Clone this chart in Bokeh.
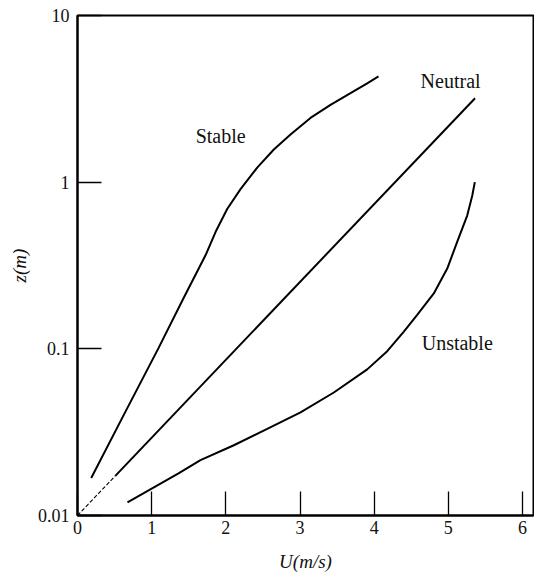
from bokeh.plotting import figure
from bokeh.models import Range1d, FixedTicker, CustomJSTickFormatter, ColumnDataSource
from bokeh.core.properties import value
from bokeh.embed import file_html
from bokeh.resources import INLINE

# ---- data ----
stable_u = [0.185, 0.638, 1.092, 1.429, 1.726, 1.861, 2.018, 2.198, 2.423, 2.647,
            2.872, 3.141, 3.411, 3.681, 3.906, 4.058]
stable_z = [0.0168, 0.0413, 0.101, 0.201, 0.364, 0.502, 0.690, 0.908, 1.223, 1.57,
            1.93, 2.43, 2.91, 3.42, 3.92, 4.31]

neutral_u = [0.0, 0.51, 5.36]
neutral_z = [0.01, 0.0173, 3.19]

unstable_u = [0.674, 1.362, 1.658, 2.108, 2.558, 3.007, 3.456, 3.906, 4.176, 4.400,
              4.580, 4.804, 4.985, 5.119, 5.254, 5.322, 5.357]
unstable_z = [0.0120, 0.0179, 0.0215, 0.0264, 0.0331, 0.0416, 0.0547, 0.0753, 0.0968, 0.127,
              0.160, 0.215, 0.303, 0.438, 0.630, 0.829, 1.0]

label_text = ["Stable", "Neutral", "Unstable"]
label_u = [1.93, 5.03, 5.12]
label_z = [1.88, 4.05, 0.109]

x_ticks = [0, 1, 2, 3, 4, 5, 6]
y_ticks = [0.01, 0.1, 1, 10]
y_tick_labels = ["0.01", "0.1", "1", "10"]

FONT = "Liberation Serif"
TXT = "#111111"

p = figure(width=534, height=574, output_backend="svg", toolbar_location=None,
           x_range=Range1d(0, 6.148), y_range=Range1d(0.01, 10), y_axis_type="log",
           min_border_left=77, min_border_right=1, min_border_top=15, min_border_bottom=55,
           x_axis_label="U(m/s)", y_axis_label="z(m)")
p.grid.visible = False
p.outline_line_color = "black"
p.outline_line_width = 2
p.background_fill_color = "white"
p.border_fill_color = "white"

for ax in (p.xaxis[0], p.yaxis[0]):
    ax.major_tick_in = 24
    ax.major_tick_out = 0
    ax.minor_tick_in = 0
    ax.minor_tick_out = 0
    ax.axis_line_width = 2
    ax.major_tick_line_width = 1.3
    ax.major_label_text_font = FONT
    ax.major_label_text_font_size = "18px"
    ax.major_label_text_color = TXT
    ax.axis_label_text_font = FONT
    ax.axis_label_text_font_size = "19px"
    ax.axis_label_text_font_style = "italic"
    ax.axis_label_text_color = TXT

p.xaxis.ticker = FixedTicker(ticks=x_ticks)
p.xaxis.major_label_standoff = 5
p.xaxis.axis_label_standoff = 14

p.yaxis.ticker = FixedTicker(ticks=y_ticks)
p.yaxis.formatter = CustomJSTickFormatter(
    args=dict(tv=y_ticks, tl=y_tick_labels),
    code="""
    for (let i = 0; i < tv.length; i++) {
        if (Math.abs(tv[i] - tick) <= 1e-6 * tv[i]) return tl[i];
    }
    return '';
    """)
p.yaxis.major_label_standoff = 8
p.yaxis.axis_label_standoff = 5

# curves
p.line(stable_u, stable_z, line_color="black", line_width=2)
p.line(neutral_u[:2], neutral_z[:2], line_color="black", line_width=1.1, line_dash="4 2")
p.line(neutral_u[1:], neutral_z[1:], line_color="black", line_width=2)
p.line(unstable_u, unstable_z, line_color="black", line_width=2)

src = ColumnDataSource(dict(x=label_u, y=label_z, t=label_text))
p.text(x="x", y="y", text="t", source=src, text_font=value(FONT),
       text_font_size=value("20px"), text_align="center", text_baseline="middle",
       text_color=TXT)

open("out.html", "w").write(file_html(p, INLINE))
